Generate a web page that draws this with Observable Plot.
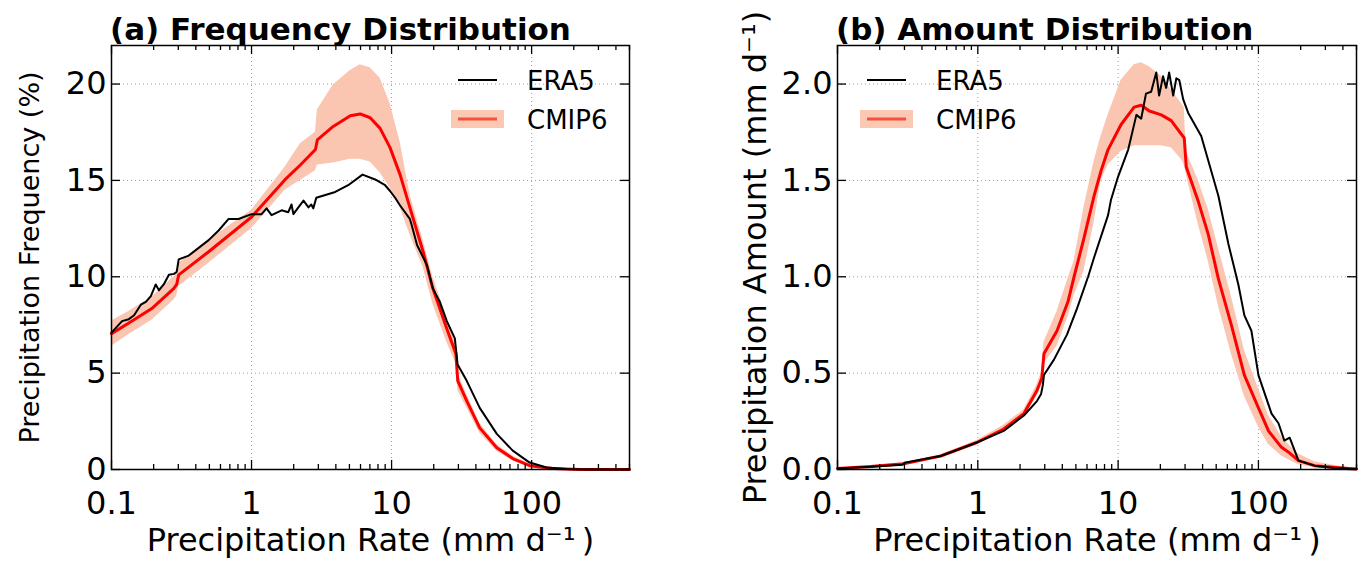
<!DOCTYPE html>
<html><head><meta charset="utf-8">
<script src="https://cdn.jsdelivr.net/npm/d3@7"></script>
<script src="https://cdn.jsdelivr.net/npm/@observablehq/plot@0.6"></script>
<style>
body{margin:0;background:#fff;font-family:"DejaVu Sans",sans-serif;}
#fig{position:relative;width:1359px;height:570px;overflow:hidden;background:#fff;}
#fig > svg, #fig > figure{position:absolute;top:0;margin:0;}
.title{position:absolute;top:14px;font-weight:bold;font-size:31px;line-height:31px;white-space:nowrap;color:#000;}
.leg{position:absolute;left:0;top:0;}
</style></head><body><div id="fig"></div>
<script>
// ---------- data ----------
const xDomain = [0.1, 500];
const xMajorTicks = [0.1, 1, 10, 100];
const xTickLabels = ["0.1", "1", "10", "100"];
const xMinorTicks = [0.2,0.3,0.4,0.5,0.6,0.7,0.8,0.9,2,3,4,5,6,7,8,9,20,30,40,50,60,70,80,90,200,300,400,500];
const xLabel = "Precipitation Rate (mm d\u207B\u00B9\u2009)";
const seriesNames = ["ERA5", "CMIP6"];

// (a) frequency distribution
const freqYTicks = [0, 5, 10, 15, 20];
const freqYLabels = ["0", "5", "10", "15", "20"];
const freqEra5X = [0.1,0.119,0.133,0.145,0.162,0.176,0.191,0.207,0.218,0.236,0.257,0.279,0.292,0.302,0.356,0.494,0.582,0.686,0.808,1.0,1.18,1.28,1.39,1.64,1.83,1.93,1.99,2.16,2.35,2.55,2.67,2.76,2.9,3.96,4.9,6.2,7.63,8.99,9.75,10.6,11.5,13.5,13.9,15.2,17.9,19.7,22.1,24.8,28.3,29.6,34.4,42.6,56.4,73.3,96.8,128,177,250,500];
const freqEra5Y = [7.1,7.7,7.8,8.0,8.55,8.7,9.0,9.6,9.3,9.6,10.1,10.15,10.25,10.9,11.1,11.9,12.4,13.0,13.0,13.25,13.25,13.55,13.2,13.45,13.35,13.75,13.25,13.6,13.95,13.6,13.75,13.55,14.1,14.4,14.75,15.3,15.05,14.75,14.45,14.1,13.7,13.0,12.7,11.65,10.6,9.4,8.7,7.7,6.8,5.45,4.6,3.2,1.85,0.98,0.36,0.1,0.03,0.0,0.0];
const freqCmipX = [0.1,0.133,0.194,0.279,0.292,0.302,0.494,1.0,1.74,2.23,2.86,2.95,3.83,5.07,5.97,7.03,8.28,9.75,11.5,13.5,16.8,19.7,24.8,28.8,29.7,34.4,42.6,56.4,73.3,96.8,141,220,500];
const freqCmipMean = [7.05,7.6,8.35,9.4,9.6,10.1,11.3,13.1,15.05,15.8,16.6,17.1,17.8,18.35,18.45,18.25,17.7,16.7,15.3,13.6,11.3,9.4,7.3,6.0,4.6,3.56,2.16,1.13,0.57,0.2,0.05,0.0,0.0];
const freqCmipLo = [6.4,7.0,7.75,8.8,9.0,9.5,10.7,12.5,14.5,15.0,15.5,15.8,15.9,16.1,16.1,15.95,15.4,14.6,13.6,12.2,10.5,8.6,6.6,5.5,4.1,3.2,1.9,0.95,0.45,0.13,0.03,0.0,0.0];
const freqCmipHi = [7.7,8.2,8.95,10.0,10.2,10.7,11.9,13.45,15.7,16.9,17.5,18.65,19.95,20.7,21.0,20.85,20.3,19.0,17.0,14.3,11.9,10.0,7.9,6.5,5.0,3.9,2.4,1.3,0.7,0.28,0.08,0.01,0.0];

// (b) amount distribution
const amtYTicks = [0, 0.5, 1.0, 1.5, 2.0];
const amtYLabels = ["0.0", "0.5", "1.0", "1.5", "2.0"];
const amtEra5X = [0.1,0.172,0.29,0.30,0.544,0.984,1.53,2.13,2.64,2.82,2.91,2.96,3.49,4.32,5.09,6.11,6.74,8.48,8.9,10,11.8,13.5,14.6,15.8,17.2,18.7,19.6,20.9,22.0,23.1,24.7,26.0,27.3,29.1,31.6,39.1,51.8,61.1,71.9,79.4,89.1,100,124,139,153,167,193,251,349,500];
const amtEra5Y = [0.005,0.014,0.025,0.035,0.07,0.14,0.2,0.28,0.355,0.39,0.44,0.49,0.57,0.70,0.835,1.0,1.1,1.32,1.40,1.52,1.66,1.84,1.82,1.95,1.96,2.06,1.94,2.04,1.98,2.06,1.94,2.03,2.02,1.92,1.85,1.73,1.42,1.17,0.96,0.80,0.72,0.49,0.29,0.24,0.15,0.165,0.046,0.02,0.008,0.003];
const amtCmipX = [0.1,0.172,0.296,0.544,0.984,1.53,2.13,2.64,2.86,2.96,3.67,4.39,4.85,5.71,6.74,7.56,8.48,10.5,13.0,14.6,16.7,20.3,23.9,28.2,29.6,30.6,37.3,43.9,51.8,64.1,79.4,100,118,146,164,193,251,440,500];
const amtCmipMean = [0.005,0.015,0.03,0.07,0.14,0.21,0.29,0.41,0.475,0.60,0.72,0.87,1.0,1.2,1.42,1.55,1.66,1.79,1.88,1.89,1.86,1.84,1.81,1.74,1.72,1.57,1.39,1.22,0.99,0.75,0.49,0.32,0.2,0.115,0.09,0.046,0.02,0.005,0.003];
const amtCmipLo = [0.004,0.013,0.027,0.065,0.13,0.2,0.27,0.38,0.44,0.55,0.64,0.79,0.9,1.03,1.28,1.5,1.58,1.65,1.68,1.68,1.68,1.68,1.67,1.61,1.58,1.53,1.27,1.08,0.85,0.6,0.38,0.22,0.13,0.07,0.05,0.025,0.01,0.002,0.001];
const amtCmipHi = [0.006,0.017,0.033,0.075,0.15,0.23,0.31,0.44,0.51,0.66,0.82,0.99,1.08,1.36,1.6,1.73,1.84,2.02,2.1,2.11,2.09,2.04,1.97,1.9,1.88,1.65,1.5,1.35,1.15,0.9,0.62,0.42,0.28,0.17,0.13,0.08,0.04,0.008,0.005];

// ---------- styling ----------
const bandColor = "#fac6b1";
const meanColor = "#ff0000";
const H = 570, MT = 45, MB = 101;

function panel(o) {
  const fw = o.width - o.marginLeft - o.marginRight, fh = H - MT - MB;
  const cmip = o.cx.map((x, i) => ({x, mean: o.cm[i], lo: o.cl[i], hi: o.ch[i]}));
  const era5 = o.ex.map((x, i) => ({x, y: o.ey[i]}));
  const grid = {stroke: "#a0a0a0", strokeOpacity: 1, strokeWidth: 1, strokeDasharray: "1,3"};
  const tk = {stroke: "black", strokeWidth: 1.3};
  return Plot.plot({
    width: o.width, height: H,
    marginLeft: o.marginLeft, marginRight: o.marginRight, marginTop: MT, marginBottom: MB,
    style: {fontFamily: "'DejaVu Sans', sans-serif", background: "transparent", color: "black", overflow: "visible"},
    x: {type: "log", domain: xDomain},
    y: {domain: o.yDomain},
    marks: [
      Plot.gridX(xMajorTicks, grid),
      Plot.gridY(o.yTicks, grid),
      Plot.areaY(cmip, {x: "x", y1: "lo", y2: "hi", fill: bandColor}),
      Plot.lineY(cmip, {x: "x", y: "mean", stroke: meanColor, strokeWidth: 3}),
      Plot.lineY(era5, {x: "x", y: "y", stroke: "black", strokeWidth: 2}),
      Plot.tickX(xMajorTicks, {...tk, insetTop: fh - 9}),
      Plot.tickX(xMajorTicks, {...tk, insetBottom: fh - 9}),
      Plot.tickX(xMinorTicks, {...tk, insetTop: fh - 5}),
      Plot.tickX(xMinorTicks, {...tk, insetBottom: fh - 5}),
      Plot.tickY(o.yTicks, {...tk, insetRight: fw - 9}),
      Plot.tickY(o.yTicks, {...tk, insetLeft: fw - 9}),
      Plot.axisX(xMajorTicks, {tickSize: 0, tickPadding: 22, fontSize: 32, label: null,
        tickFormat: d => xTickLabels[xMajorTicks.indexOf(d)]}),
      Plot.axisY(o.yTicks, {tickSize: 0, tickPadding: 5, fontSize: 32, label: null,
        tickFormat: d => o.yLabels[o.yTicks.indexOf(d)]}),
      Plot.text([xLabel], {frameAnchor: "bottom", dy: 81, fontSize: 32, text: d => d}),
      Plot.text([o.yLabel], {frameAnchor: "left", textAnchor: "middle", dx: o.yLabelDx, rotate: -90,
        fontSize: o.yLabelSize, text: d => d}),
      Plot.frame({stroke: "black", strokeWidth: 1.5})
    ]
  });
}

const fig = document.getElementById("fig");

const pa = panel({width: 680, marginLeft: 111, marginRight: 51, yDomain: [0, 22],
  yTicks: freqYTicks, yLabels: freqYLabels, yLabel: "Precipitation Frequency (%)", yLabelSize: 27, yLabelDx: -81,
  ex: freqEra5X, ey: freqEra5Y, cx: freqCmipX, cm: freqCmipMean, cl: freqCmipLo, ch: freqCmipHi});
pa.style.left = "0px";
fig.appendChild(pa);

const pb = panel({width: 679, marginLeft: 157, marginRight: 3, yDomain: [0, 2.2],
  yTicks: amtYTicks, yLabels: amtYLabels, yLabel: "Precipitation Amount (mm d\u207B\u00B9)", yLabelSize: 32, yLabelDx: -82,
  ex: amtEra5X, ey: amtEra5Y, cx: amtCmipX, cm: amtCmipMean, cl: amtCmipLo, ch: amtCmipHi});
pb.style.left = "680px";
fig.appendChild(pb);

// titles
function title(text, left) {
  const d = document.createElement("div");
  d.className = "title"; d.textContent = text; d.style.left = left + "px";
  fig.appendChild(d);
}
title("(a) Frequency Distribution", 110);
title("(b) Amount Distribution", 836);

// legends
function legend(x0) {
  const svg = d3.select(fig).append("svg").attr("class", "leg")
    .attr("width", 1359).attr("height", 160)
    .style("position", "absolute").style("left", "0px").style("top", "0px");
  svg.append("line").attr("x1", x0).attr("x2", x0 + 39).attr("y1", 80).attr("y2", 80)
    .attr("stroke", "black").attr("stroke-width", 2);
  svg.append("rect").attr("x", x0 - 7).attr("y", 110).attr("width", 53).attr("height", 18)
    .attr("fill", "#fbc8b4");
  svg.append("line").attr("x1", x0).attr("x2", x0 + 39).attr("y1", 119).attr("y2", 119)
    .attr("stroke", "#f4503c").attr("stroke-width", 3);
  svg.selectAll("text").data(seriesNames).join("text")
    .attr("x", x0 + 69).attr("y", (d, i) => i ? 129 : 90)
    .attr("font-size", 26).attr("font-family", "'DejaVu Sans', sans-serif")
    .attr("fill", "black").text(d => d);
}
legend(458);
legend(867);
</script>
</body></html>
